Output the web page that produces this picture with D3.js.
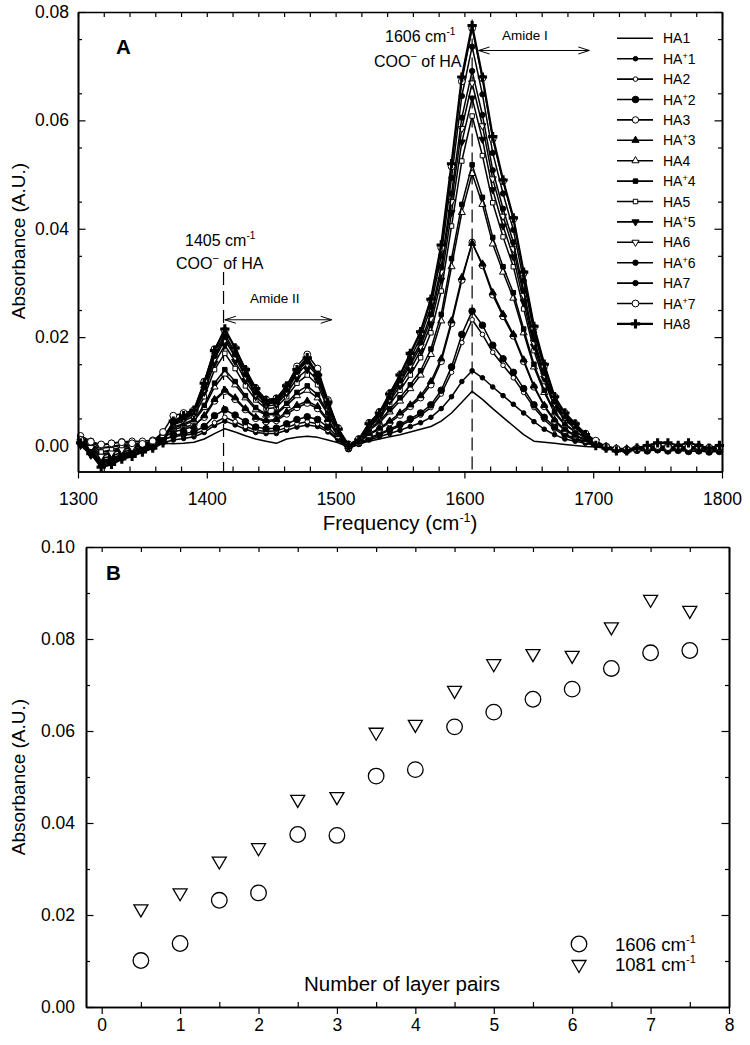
<!DOCTYPE html>
<html><head><meta charset="utf-8">
<script src="https://cdn.jsdelivr.net/npm/d3@7"></script>
<style>
body{margin:0;background:#fff}
svg{display:block}
</style>
</head><body>
<svg id="c" width="750" height="1045"></svg>
<script>
// ---------------- DATA ----------------
// Panel A: FTIR spectra, sampled every 8 cm-1 from 1302 to 1798
const freq = d3.range(1302, 1800, 8);
const seriesNames = ["HA1","HA+1","HA2","HA+2","HA3","HA+3","HA4","HA+4","HA5","HA+5","HA6","HA+6","HA7","HA+7","HA8"];

const HA1 = [
 .0005,.0000,-.0005,-.0003,.0000,.0000,.0002,.0003,.0004,
 .0003,.0004,.0006,.0012,.0022,.0031,.0025,.0018,.0012,
 .0008,.0004,.0012,.0015,.0017,.0015,.0010,.0005,-.0003,
 .0003,.0008,.0012,.0016,.0020,.0025,.0030,.0035,.0045,
 .0060,.0080,.0100,.0085,.0068,.0052,.0036,.0020,.0008,
 .0006,.0004,.0002,.0000,-.0002,-.0003,-.0005,-.0008,-.0008,
 -.0006,-.0005,-.0005,-.0006,-.0005,-.0006,-.0005,-.0007,-.0006];
const HAp1 = [
 .0012,.0002,-.0012,-.0010,-.0006,-.0004,-.0001,.0002,.0005,
 .0010,.0013,.0016,.0024,.0037,.0045,.0038,.0030,.0024,
 .0022,.0022,.0028,.0034,.0038,.0035,.0025,.0010,-.0005,
 .0002,.0010,.0016,.0022,.0028,.0035,.0042,.0052,.0068,
 .0090,.0118,.0138,.0125,.0108,.0092,.0076,.0060,.0044,
 .0030,.0020,.0012,.0008,.0004,.0000,-.0004,-.0006,-.0008,
 -.0006,-.0008,-.0006,-.0008,-.0007,-.0009,-.0008,-.0010,-.0009];
const HA2 = [
 .0015,.0006,-.0004,-.0002,.0002,.0003,.0005,.0007,.0012,
 .0016,.0019,.0021,.0028,.0042,.0052,.0044,.0035,.0028,
 .0026,.0027,.0033,.0040,.0044,.0040,.0028,.0012,-.0005,
 .0003,.0012,.0020,.0028,.0036,.0046,.0056,.0070,.0095,
 .0135,.0190,.0232,.0205,.0172,.0148,.0125,.0098,.0070,
 .0048,.0030,.0018,.0011,.0006,.0001,-.0003,-.0006,-.0007,
 -.0006,-.0005,-.0004,-.0006,-.0005,-.0006,-.0005,-.0007,-.0006];
const HAp2 = [
 .0008,-.0006,-.0024,-.0020,-.0012,-.0008,-.0003,.0002,.0010,
 .0018,.0022,.0025,.0035,.0055,.0066,.0056,.0044,.0034,
 .0031,.0032,.0040,.0048,.0053,.0048,.0034,.0015,-.0006,
 .0004,.0014,.0022,.0030,.0039,.0049,.0060,.0075,.0102,
 .0145,.0205,.0248,.0222,.0185,.0160,.0135,.0105,.0075,
 .0052,.0034,.0021,.0013,.0008,.0002,-.0004,-.0008,-.0010,
 -.0009,-.0010,-.0008,-.0010,-.0009,-.0011,-.0010,-.0012,-.0011];
const HA3 = [
 .0018,.0008,.0000,.0004,.0007,.0008,.0008,.0010,.0020,
 .0030,.0034,.0038,.0052,.0082,.0100,.0085,.0066,.0050,
 .0044,.0046,.0058,.0070,.0078,.0068,.0045,.0018,-.0004,
 .0006,.0020,.0030,.0042,.0056,.0072,.0088,.0112,.0155,
 .0225,.0305,.0375,.0332,.0278,.0238,.0202,.0155,.0108,
 .0072,.0045,.0028,.0018,.0010,.0003,-.0002,-.0006,-.0007,
 -.0005,-.0004,-.0002,-.0004,-.0003,-.0005,-.0004,-.0006,-.0005];
const HAp3 = [
 .0006,-.0010,-.0028,-.0024,-.0016,-.0010,-.0004,.0003,.0014,
 .0025,.0030,.0035,.0055,.0085,.0102,.0088,.0068,.0052,
 .0046,.0048,.0062,.0074,.0082,.0072,.0048,.0020,-.0002,
 .0008,.0022,.0032,.0045,.0060,.0075,.0092,.0118,.0160,
 .0230,.0310,.0373,.0335,.0282,.0242,.0205,.0158,.0110,
 .0074,.0047,.0030,.0019,.0011,.0004,-.0002,-.0005,-.0006,
 -.0004,-.0003,-.0002,-.0003,-.0002,-.0004,-.0003,-.0005,-.0004];
const HA4 = [
 .0010,-.0002,-.0016,-.0012,-.0006,-.0003,.0001,.0006,.0016,
 .0032,.0038,.0045,.0070,.0108,.0132,.0112,.0088,.0066,
 .0056,.0058,.0074,.0092,.0102,.0088,.0058,.0022,.0000,
 .0008,.0028,.0042,.0062,.0082,.0105,.0130,.0168,.0230,
 .0330,.0430,.0502,.0445,.0372,.0320,.0272,.0208,.0145,
 .0098,.0060,.0038,.0025,.0014,.0005,-.0002,-.0006,-.0007,
 -.0005,-.0003,-.0001,-.0003,-.0002,-.0004,-.0003,-.0005,-.0004];
const HAp4 = [
 .0002,-.0012,-.0030,-.0026,-.0018,-.0012,-.0005,.0002,.0013,
 .0034,.0040,.0048,.0074,.0115,.0140,.0118,.0092,.0070,
 .0058,.0060,.0078,.0098,.0110,.0094,.0060,.0024,.0000,
 .0008,.0030,.0045,.0066,.0088,.0112,.0138,.0178,.0242,
 .0345,.0445,.0518,.0458,.0384,.0330,.0282,.0215,.0150,
 .0102,.0062,.0040,.0026,.0015,.0006,-.0002,-.0006,-.0008,
 -.0006,-.0004,-.0002,-.0004,-.0003,-.0005,-.0004,-.0006,-.0005];
const HA5 = [
 .0012,.0002,-.0012,-.0008,-.0003,.0000,.0003,.0008,.0018,
 .0038,.0045,.0054,.0090,.0140,.0170,.0142,.0110,.0084,
 .0068,.0070,.0090,.0115,.0130,.0112,.0068,.0026,.0000,
 .0009,.0034,.0050,.0076,.0102,.0130,.0162,.0208,.0285,
 .0405,.0525,.0608,.0535,.0448,.0385,.0330,.0252,.0175,
 .0118,.0072,.0047,.0031,.0018,.0007,-.0002,-.0006,-.0008,
 -.0006,-.0003,-.0001,-.0003,-.0002,-.0004,-.0003,-.0005,-.0004];
const HAp5 = [
 .0000,-.0018,-.0032,-.0028,-.0020,-.0013,-.0006,.0000,.0012,
 .0040,.0048,.0058,.0098,.0152,.0185,.0155,.0120,.0090,
 .0073,.0075,.0096,.0124,.0140,.0120,.0072,.0028,.0000,
 .0009,.0036,.0053,.0082,.0110,.0140,.0175,.0224,.0305,
 .0430,.0560,.0641,.0565,.0472,.0405,.0348,.0265,.0183,
 .0124,.0075,.0050,.0033,.0019,.0007,-.0003,-.0007,-.0009,
 -.0007,-.0004,-.0002,-.0004,-.0003,-.0005,-.0004,-.0006,-.0005];
const HA6 = [
 .0008,-.0004,-.0020,-.0014,-.0008,-.0004,.0000,.0005,.0015,
 .0042,.0050,.0060,.0104,.0160,.0195,.0163,.0127,.0095,
 .0077,.0079,.0100,.0132,.0150,.0128,.0076,.0029,.0000,
 .0010,.0038,.0056,.0086,.0116,.0148,.0183,.0234,.0320,
 .0450,.0585,.0669,.0590,.0492,.0423,.0363,.0277,.0190,
 .0130,.0078,.0052,.0034,.0019,.0007,-.0003,-.0007,-.0009,
 -.0006,-.0003,-.0001,-.0003,-.0002,-.0004,-.0002,-.0005,-.0003];
const HAp6 = [
 .0005,-.0015,-.0034,-.0030,-.0022,-.0015,-.0008,-.0002,.0010,
 .0043,.0052,.0062,.0107,.0165,.0200,.0168,.0131,.0098,
 .0079,.0081,.0103,.0136,.0155,.0132,.0078,.0030,.0000,
 .0010,.0039,.0058,.0089,.0120,.0153,.0190,.0242,.0330,
 .0465,.0605,.0691,.0610,.0508,.0437,.0375,.0286,.0196,
 .0134,.0081,.0054,.0036,.0020,.0008,-.0003,-.0008,-.0010,
 -.0008,-.0005,-.0003,-.0005,-.0004,-.0006,-.0005,-.0007,-.0006];
const HA7 = [
 .0010,-.0012,-.0037,-.0032,-.0024,-.0017,-.0010,-.0004,.0008,
 .0044,.0053,.0063,.0110,.0170,.0205,.0172,.0134,.0100,
 .0080,.0082,.0105,.0138,.0158,.0135,.0080,.0030,.0000,
 .0010,.0040,.0060,.0092,.0124,.0160,.0200,.0256,.0350,
 .0494,.0645,.0736,.0648,.0540,.0465,.0398,.0304,.0208,
 .0142,.0086,.0057,.0038,.0021,.0008,-.0003,-.0008,-.0010,
 -.0008,-.0005,-.0003,-.0004,-.0003,-.0005,-.0004,-.0006,-.0005];
const HAp7 = [
 .0010,.0007,.0002,.0004,.0006,.0004,.0003,.0008,.0025,
 .0055,.0060,.0065,.0118,.0178,.0212,.0180,.0140,.0106,
 .0085,.0087,.0110,.0146,.0168,.0142,.0084,.0032,.0002,
 .0012,.0042,.0062,.0096,.0130,.0168,.0208,.0268,.0365,
 .0515,.0672,.0770,.0678,.0566,.0488,.0418,.0318,.0218,
 .0148,.0090,.0060,.0040,.0022,.0009,-.0002,-.0006,-.0008,
 -.0006,-.0003,-.0001,-.0003,-.0002,-.0003,-.0002,-.0004,-.0003];
const HA8 = [
 .0005,-.0015,-.0040,-.0035,-.0025,-.0020,-.0012,-.0005,.0005,
 .0045,.0055,.0065,.0115,.0175,.0215,.0180,.0140,.0105,
 .0083,.0085,.0110,.0140,.0162,.0130,.0080,.0030,.0000,
 .0010,.0040,.0060,.0095,.0130,.0170,.0210,.0270,.0370,
 .0520,.0680,.0775,.0680,.0570,.0490,.0420,.0320,.0220,
 .0150,.0090,.0060,.0040,.0020,.0000,-.0005,-.0010,-.0010,
 -.0005,.0000,.0005,.0005,.0000,.0005,.0000,-.0005,.0000];

const spectra = [HA1,HAp1,HA2,HAp2,HA3,HAp3,HA4,HAp4,HA5,HAp5,HA6,HAp6,HA7,HAp7,HA8];

// Panel A axis ticks
const xTicksA = [1300,1400,1500,1600,1700,1800];
const yTicksA = [0.00,0.02,0.04,0.06,0.08];

// Panel B
const layerPairs = [0.5,1,1.5,2,2.5,3,3.5,4,4.5,5,5.5,6,6.5,7,7.5];
const abs1606 = [0.0101,0.0138,0.0232,0.0248,0.0375,0.0373,0.0502,0.0516,0.0609,0.0641,0.0669,0.0691,0.0736,0.0770,0.0775];
const abs1081 = [0.0210,0.0245,0.0314,0.0343,0.0448,0.0454,0.0594,0.0611,0.0685,0.0743,0.0765,0.0761,0.0823,0.0883,0.0859];
const xTicksB = [0,1,2,3,4,5,6,7,8];
const yTicksB = [0.00,0.02,0.04,0.06,0.08,0.10];
const legendB = ["1606 cm", "1081 cm"];

// ---------------- STYLE ----------------
const FONT = "'Liberation Sans', Arial, Helvetica, sans-serif";
const markerTypes = ["none","circleF","circleO","circleF","circleO","triUpF","triUpO","squareF","squareO","triDownF","triDownO","circleF","circleF","circleO","plus"];
const markerSizes = [0,2.3,2.3,3.3,3.2,22,22,20,20,22,22,2.7,2.7,3.4,48];

const svg = d3.select("#c");

function marker(g, type, s, cx, cy) {
  if (type === "none") return;
  const filled = type.endsWith("F");
  if (type.startsWith("circle")) {
    g.append("circle").attr("cx", cx).attr("cy", cy).attr("r", s)
      .attr("fill", filled ? "#000" : "#fff").attr("stroke", "#000").attr("stroke-width", 1);
    return;
  }
  let sym = d3.symbolCross, rot = 0;
  if (type.startsWith("triUp")) sym = d3.symbolTriangle;
  else if (type.startsWith("triDown")) { sym = d3.symbolTriangle; rot = 180; }
  else if (type.startsWith("square")) sym = d3.symbolSquare;
  const p = g.append("path").attr("d", d3.symbol(sym, s)())
    .attr("transform", `translate(${cx},${cy}) rotate(${rot})`);
  if (type === "plus") p.attr("fill", "#000");
  else p.attr("fill", filled ? "#000" : "#fff").attr("stroke", "#000").attr("stroke-width", 1);
}

function styleAxis(g, fs) {
  g.attr("font-family", FONT).attr("font-size", fs);
  g.select(".domain").attr("stroke", "#000").attr("stroke-width", 1.6);
  g.selectAll(".tick line").attr("stroke", "#000").attr("stroke-width", 1.2);
  g.selectAll(".tick text").attr("fill", "#000");
}

function frame(x, y, xMaj, xMin, yMaj, yMin, opt) {
  const [x0, x1] = x.range(), [y0, y1] = y.range(); // y0 bottom, y1 top
  const g = svg.append("g");
  const gb = g.append("g").attr("transform", `translate(0,${y0})`)
    .call(d3.axisBottom(x).tickValues(xMaj).tickSize(7).tickSizeOuter(0).tickPadding(opt.xPad).tickFormat(opt.xFmt));
  styleAxis(gb, opt.fs);
  const gb2 = g.append("g").attr("transform", `translate(0,${y0})`)
    .call(d3.axisTop(x).tickValues(xMin).tickSize(5).tickSizeOuter(0).tickFormat(""));
  styleAxis(gb2, opt.fs);
  const gt = g.append("g").attr("transform", `translate(0,${y1})`)
    .call(d3.axisBottom(x).tickValues(xMaj.concat(xMin)).tickSize(5).tickSizeOuter(0).tickFormat(""));
  styleAxis(gt, opt.fs);
  const gl = g.append("g").attr("transform", `translate(${x0},0)`)
    .call(d3.axisLeft(y).tickValues(yMaj).tickSize(-7.5).tickSizeOuter(0).tickPadding(opt.yPad).tickFormat(d3.format(".2f")));
  styleAxis(gl, opt.fs);
  const gl2 = g.append("g").attr("transform", `translate(${x0},0)`)
    .call(d3.axisLeft(y).tickValues(yMin).tickSize(-4).tickSizeOuter(0).tickFormat(""));
  styleAxis(gl2, opt.fs);
  const gr = g.append("g").attr("transform", `translate(${x1},0)`)
    .call(d3.axisRight(y).tickValues(yMaj).tickSize(-7.5).tickSizeOuter(0).tickFormat(""));
  styleAxis(gr, opt.fs);
  const gr2 = g.append("g").attr("transform", `translate(${x1},0)`)
    .call(d3.axisRight(y).tickValues(yMin).tickSize(-4).tickSizeOuter(0).tickFormat(""));
  styleAxis(gr2, opt.fs);
}

function sup(textSel, base, supTxt, fsSup, rise, after) {
  textSel.append("tspan").text(base);
  textSel.append("tspan").attr("font-size", fsSup).attr("dy", -rise).text(supTxt);
  if (after !== undefined) textSel.append("tspan").attr("dy", rise).text(after);
}

// ---------------- PANEL A ----------------
const xA = d3.scaleLinear().domain([1300, 1800]).range([78, 722]);
const yA = d3.scaleLinear().domain([-0.0048, 0.08]).range([471.5, 12]);

const xMinorA = d3.range(1320, 1800, 20).filter(v => v % 100 !== 0);
const yMinorA = [0.005, 0.015, 0.025, 0.035, 0.045, 0.055, 0.065, 0.075];

// dashed reference lines
const dashA = [{f: 1413, y0: 0.0320}, {f: 1606, y0: 0.0786}];
svg.append("g").selectAll("line").data(dashA).join("line")
  .attr("x1", d => xA(d.f)).attr("x2", d => xA(d.f))
  .attr("y1", d => yA(d.y0)).attr("y2", yA(-0.0048))
  .attr("stroke", "#000").attr("stroke-width", 1.2).attr("stroke-dasharray", "13,6");

const lineGen = d3.line().x((d, i) => xA(freq[i])).y(d => yA(d));
const gS = svg.append("g");
spectra.forEach((s, k) => {
  gS.append("path").attr("d", lineGen(s)).attr("fill", "none").attr("stroke", "#000")
    .attr("stroke-width", k === 14 ? 2.2 : 1.5).attr("stroke-linejoin", "round");
  const gm = gS.append("g");
  s.forEach((v, i) => marker(gm, markerTypes[k], markerSizes[k], xA(freq[i]), yA(v)));
});

frame(xA, yA, xTicksA, xMinorA, yTicksA, yMinorA, {fs: 17.5, xPad: 14, yPad: 9, xFmt: d3.format("d")});

// Panel A texts
svg.append("text").attr("x", 116).attr("y", 54).attr("font-family", FONT).attr("font-size", 20.5)
  .attr("font-weight", "bold").text("A");

const tA = svg.append("text").attr("x", 400).attr("y", 530).attr("text-anchor", "middle")
  .attr("font-family", FONT).attr("font-size", 20.5);
sup(tA, "Frequency (cm", "-1", 12.5, 8, ")");

svg.append("text").attr("transform", "translate(25,241) rotate(-90)").attr("text-anchor", "middle")
  .attr("font-family", FONT).attr("font-size", 19).text("Absorbance (A.U.)");

// annotations
const t1 = svg.append("text").attr("x", 385).attr("y", 42).attr("font-family", FONT).attr("font-size", 16);
sup(t1, "1606 cm", "-1", 10, 7);
const t2 = svg.append("text").attr("x", 374).attr("y", 67).attr("font-family", FONT).attr("font-size", 16);
sup(t2, "COO", "\u2212", 11, 7, " of HA");
const t3 = svg.append("text").attr("x", 185).attr("y", 246).attr("font-family", FONT).attr("font-size", 16);
sup(t3, "1405 cm", "-1", 10, 7);
const t4 = svg.append("text").attr("x", 176).attr("y", 269).attr("font-family", FONT).attr("font-size", 16);
sup(t4, "COO", "\u2212", 11, 7, " of HA");
svg.append("text").attr("x", 502).attr("y", 40).attr("font-family", FONT).attr("font-size", 13.5).text("Amide I");
svg.append("text").attr("x", 250).attr("y", 303).attr("font-family", FONT).attr("font-size", 13.5).text("Amide II");

// double arrows
const arrowsA = [{f0: 1611, f1: 1697, y: 0.0729}, {f0: 1414, f1: 1497, y: 0.0232}];
arrowsA.forEach(a => {
  const xa = xA(a.f0), xb = xA(a.f1), yy = yA(a.y);
  const p = d3.path();
  p.moveTo(xa, yy); p.lineTo(xb, yy);
  p.moveTo(xa + 11, yy - 3.5); p.lineTo(xa, yy); p.lineTo(xa + 11, yy + 3.5);
  p.moveTo(xb - 11, yy - 3.5); p.lineTo(xb, yy); p.lineTo(xb - 11, yy + 3.5);
  svg.append("path").attr("d", p.toString()).attr("fill", "none").attr("stroke", "#000").attr("stroke-width", 1);
});

// legend A
const gL = svg.append("g");
seriesNames.forEach((n, i) => {
  const yy = 38.3 + i * 20.4;
  gL.append("line").attr("x1", 617).attr("x2", 653).attr("y1", yy).attr("y2", yy)
    .attr("stroke", "#000").attr("stroke-width", i === 14 ? 2.2 : 1.6);
  marker(gL, markerTypes[i], markerSizes[i], 635.5, yy);
  const t = gL.append("text").attr("x", 663).attr("y", yy + 5).attr("font-family", FONT).attr("font-size", 14);
  if (n.includes("+")) {
    const parts = n.split("+");
    t.append("tspan").text(parts[0]);
    t.append("tspan").attr("font-size", 9).attr("dy", -5).text("+");
    t.append("tspan").attr("dy", 5).text(parts[1]);
  } else t.text(n);
});

// ---------------- PANEL B ----------------
const xB = d3.scaleLinear().domain([-0.2, 8]).range([86, 729]);
const yB = d3.scaleLinear().domain([0, 0.10]).range([1007, 547]);
const xMinorB = d3.range(0.5, 8, 1);
const yMinorB = [0.01, 0.03, 0.05, 0.07, 0.09];

frame(xB, yB, xTicksB, xMinorB, yTicksB, yMinorB, {fs: 17.5, xPad: 4.5, yPad: 11, xFmt: d3.format("d")});

const gB = svg.append("g");
function triDown(cx, cy) {
  return `M${cx - 7},${cy - 5.5}L${cx + 7},${cy - 5.5}L${cx},${cy + 6.5}Z`;
}
gB.selectAll("circle.c").data(layerPairs).join("circle")
  .attr("cx", d => xB(d)).attr("cy", (d, i) => yB(abs1606[i])).attr("r", 7.8)
  .attr("fill", "none").attr("stroke", "#000").attr("stroke-width", 1.3);
gB.selectAll("path.t").data(layerPairs).join("path")
  .attr("d", (d, i) => triDown(xB(d), yB(abs1081[i])))
  .attr("fill", "none").attr("stroke", "#000").attr("stroke-width", 1.3);

svg.append("text").attr("x", 106).attr("y", 580).attr("font-family", FONT).attr("font-size", 20.5)
  .attr("font-weight", "bold").text("B");
svg.append("text").attr("x", 304).attr("y", 991).attr("font-family", FONT).attr("font-size", 20.5)
  .text("Number of layer pairs");
svg.append("text").attr("transform", "translate(25,777) rotate(-90)").attr("text-anchor", "middle")
  .attr("font-family", FONT).attr("font-size", 19).text("Absorbance (A.U.)");

// legend B
svg.append("circle").attr("cx", 579).attr("cy", 944).attr("r", 7.8).attr("fill", "none")
  .attr("stroke", "#000").attr("stroke-width", 1.3);
svg.append("path").attr("d", triDown(579, 966)).attr("fill", "none").attr("stroke", "#000").attr("stroke-width", 1.3);
legendB.forEach((s, i) => {
  const t = svg.append("text").attr("x", 615).attr("y", 951 + i * 20).attr("font-family", FONT).attr("font-size", 18.5);
  sup(t, s, "-1", 11, 8);
});
</script>
</body></html>
